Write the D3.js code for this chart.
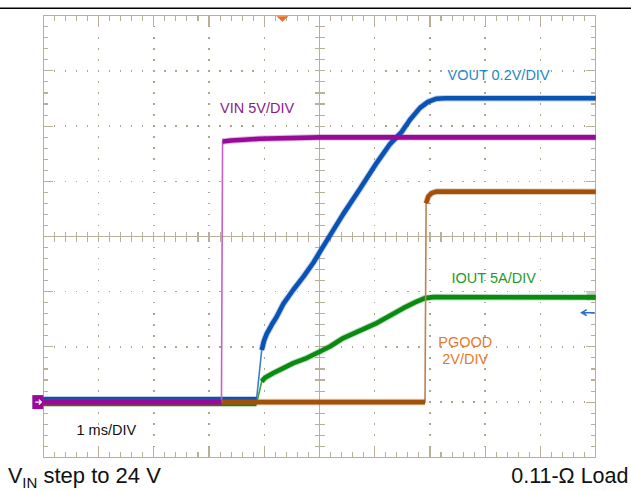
<!DOCTYPE html>
<html>
<head>
<meta charset="utf-8">
<script src="https://cdn.jsdelivr.net/npm/d3@7"></script>
<style>
  html, body { margin: 0; padding: 0; background: #ffffff; }
  svg { display: block; }
  text { font-family: "Liberation Sans", Arial, Helvetica, sans-serif; }
</style>
</head>
<body>
<script>
// ---------------- data ----------------
// time in ms (1 ms/DIV), null marks a fast edge (drawn thin)
const channelNames = ["VIN", "VOUT", "IOUT", "PGOOD"];
const unitsPerDiv  = [5, 0.2, 5, 2];          // V/DIV, V/DIV, A/DIV, V/DIV
const channelLabels = ["VIN 5V/DIV", "VOUT 0.2V/DIV", "IOUT 5A/DIV", "PGOOD", "2V/DIV"];
const timebaseLabel = "1 ms/DIV";
const noteLeft = ["V", "IN", " step to 24 V"];
const noteRight = "0.11-\u03A9 Load";

const vinTime  = [0, 3.225, null, 3.245, 3.40, 3.92, 5.01, 10];
const vinVolts = [0, 0,     null, 23.6,  23.7, 23.85, 23.98, 23.98];

const voutTime  = [0, 3.86, null, 3.954, 3.995, 4.044, 4.135, 4.225, 4.345, 4.526, 4.707, 4.888, 5.040, 5.431, 5.733, 6.036, 6.276, 6.488, 6.638, 6.819, 6.964, 7.109, 7.271, 10];
const voutVolts = [0.01, 0.01, null, 0.189, 0.222, 0.247, 0.280, 0.309, 0.356, 0.407, 0.454, 0.505, 0.555, 0.682, 0.773, 0.867, 0.935, 0.979, 1.023, 1.066, 1.088, 1.099, 1.101, 1.101];

const ioutTime = [0, 3.86, null, 3.954, 4.013, 4.164, 4.345, 4.526, 4.768, 5.009, 5.190, 5.431, 6.036, 6.517, 6.760, 6.910, 7.060, 10];
const ioutAmps = [-0.15, -0.15, null, 1.87, 2.20, 2.63, 3.08, 3.53, 3.99, 4.58, 5.04, 5.80, 7.16, 8.51, 9.11, 9.42, 9.51, 9.49];

const pgoodTime  = [0, 6.91, null, 6.93, 6.97, 7.03, 7.12, 10];
const pgoodVolts = [0, 0,    null, 7.2,  7.45, 7.57, 7.63, 7.62];

const triggerTime = 4.33;       // ms, orange marker on top
const groundDiv = 1;            // all channels referenced one division above bottom
const voutMarkerDiv = 2.62;     // blue level arrow on right edge
const ioutMarkerDiv = 2.93;     // grey marker on right edge

// ---------------- layout ----------------
const W = 631, H = 491;
const x = d3.scaleLinear().domain([0, 10]).range([43.3, 595.7]);
const yDiv = d3.scaleLinear().domain([0, 8]).range([457.3, 15.7]);

const gridColor = "#bab09a";
const svg = d3.select("body").append("svg").attr("width", W).attr("height", H);

// top rule
svg.append("line").attr("x1", 0).attr("x2", W).attr("y1", 8.3).attr("y2", 8.3)
  .attr("stroke", "#000").attr("stroke-width", 1.6);

const grid = svg.append("g").attr("shape-rendering", "crispEdges");

// dotted major lines
const minorX = d3.range(0, 50.5).map(i => i / 5);   // 0..10 ms step 0.2
const minorY = d3.range(0, 40.5).map(i => i / 5);   // 0..8 div step 0.2
const majorX = d3.range(1, 10).filter(d => d !== 5);
const majorY = d3.range(1, 8).filter(d => d !== 4);
const dots = [];
majorX.forEach(mx => minorY.forEach(my => { if (my > 0 && my < 8) dots.push([mx, my]); }));
majorY.forEach(my => minorX.forEach(mx => { if (mx > 0 && mx < 10) dots.push([mx, my]); }));
grid.selectAll("rect.dot").data(dots).join("rect").attr("class", "dot")
  .attr("x", d => x(d[0]) - 0.75).attr("y", d => yDiv(d[1]) - 0.75)
  .attr("width", 1.5).attr("height", 1.5).attr("fill", "#afa58b");

// center crosshair
grid.append("line").attr("x1", x(5)).attr("x2", x(5)).attr("y1", yDiv(8)).attr("y2", yDiv(0))
  .attr("stroke", gridColor).attr("stroke-width", 1.3);
grid.append("line").attr("x1", x(0)).attr("x2", x(10)).attr("y1", yDiv(4)).attr("y2", yDiv(4))
  .attr("stroke", gridColor).attr("stroke-width", 1.3);
grid.selectAll("line.cty").data(minorY.filter(d => d > 0 && d < 8)).join("line").attr("class", "cty")
  .attr("x1", x(5) - 5).attr("x2", x(5) + 5).attr("y1", d => yDiv(d)).attr("y2", d => yDiv(d))
  .attr("stroke", gridColor).attr("stroke-width", 1.1);
grid.selectAll("line.ctx").data(minorX.filter(d => d > 0 && d < 10)).join("line").attr("class", "ctx")
  .attr("y1", yDiv(4) - 5).attr("y2", yDiv(4) + 5).attr("x1", d => x(d)).attr("x2", d => x(d))
  .attr("stroke", gridColor).attr("stroke-width", 1.1);

// border ticks
const tickLen = d => (Math.abs(d - Math.round(d)) < 1e-6 ? 10 : 5);
const innerX = minorX.filter(d => d > 0 && d < 10);
const innerY = minorY.filter(d => d > 0 && d < 8);
grid.selectAll("line.tt").data(innerX).join("line").attr("class", "tt")
  .attr("x1", d => x(d)).attr("x2", d => x(d)).attr("y1", yDiv(8)).attr("y2", d => yDiv(8) + tickLen(d))
  .attr("stroke", gridColor).attr("stroke-width", 1.1);
grid.selectAll("line.bt").data(innerX).join("line").attr("class", "bt")
  .attr("x1", d => x(d)).attr("x2", d => x(d)).attr("y1", yDiv(0)).attr("y2", d => yDiv(0) - tickLen(d))
  .attr("stroke", gridColor).attr("stroke-width", 1.1);
grid.selectAll("line.lt").data(innerY).join("line").attr("class", "lt")
  .attr("y1", d => yDiv(d)).attr("y2", d => yDiv(d)).attr("x1", x(0)).attr("x2", d => x(0) + tickLen(d))
  .attr("stroke", gridColor).attr("stroke-width", 1.1);
grid.selectAll("line.rt").data(innerY).join("line").attr("class", "rt")
  .attr("y1", d => yDiv(d)).attr("y2", d => yDiv(d)).attr("x1", x(10)).attr("x2", d => x(10) - tickLen(d))
  .attr("stroke", gridColor).attr("stroke-width", 1.1);

// border
grid.append("rect").attr("x", x(0)).attr("y", yDiv(8))
  .attr("width", x(10) - x(0)).attr("height", yDiv(0) - yDiv(8))
  .attr("fill", "none").attr("stroke", gridColor).attr("stroke-width", 1.3);

// grey channel marker at right edge (behind traces)
svg.append("rect").attr("x", x(10) - 9).attr("y", yDiv(ioutMarkerDiv) - 4.5).attr("width", 9).attr("height", 9)
  .attr("fill", "#c9c7bd").attr("opacity", 0.9);

// ---------------- traces ----------------
function drawTrace(times, vals, perDiv, color, edgeColor) {
  const pts = times.map((t, i) => ({ t: t, v: vals[i] }));
  const line = d3.line().x(d => x(d.t)).y(d => yDiv(groundDiv + d.v / perDiv));
  const g = svg.append("g");
  g.append("path").datum(pts.filter(d => d.t !== null)).attr("d", line)
    .attr("fill", "none").attr("stroke", edgeColor).attr("stroke-width", 1.6);
  const thick = line.defined(d => d.t !== null);
  g.append("path").datum(pts).attr("d", thick)
    .attr("fill", "none").attr("stroke", color).attr("stroke-width", 6.5).attr("stroke-opacity", 0.28)
    .attr("stroke-linejoin", "round");
  g.append("path").datum(pts).attr("d", thick)
    .attr("fill", "none").attr("stroke", color).attr("stroke-width", 4.6)
    .attr("stroke-linejoin", "round");
}
drawTrace(ioutTime, ioutAmps, unitsPerDiv[2], "#0b8a12", "#3aa040");
drawTrace(voutTime, voutVolts, unitsPerDiv[1], "#0a52b4", "#3f7fd0");
drawTrace(pgoodTime, pgoodVolts, unitsPerDiv[3], "#a3510a", "#c08050");
drawTrace(vinTime, vinVolts, unitsPerDiv[0], "#980b98", "#c860c8");

// ---------------- markers ----------------
const tx = x(triggerTime);
svg.append("path").attr("d", `M${tx - 6},${yDiv(8) + 0.5}L${tx + 6},${yDiv(8) + 0.5}L${tx},${yDiv(8) + 6}Z`)
  .attr("fill", "#f26a24");

const gy = yDiv(groundDiv);
svg.append("rect").attr("x", x(0) - 11).attr("y", gy - 7).attr("width", 11).attr("height", 14)
  .attr("fill", "#980b98");
svg.append("path").attr("d", `M${x(0) - 8},${gy}L${x(0) - 2},${gy}M${x(0) - 4.5},${gy - 2.5}L${x(0) - 2},${gy}L${x(0) - 4.5},${gy + 2.5}`)
  .attr("stroke", "#fff").attr("stroke-width", 1.3).attr("fill", "none");

const vy = yDiv(voutMarkerDiv);
svg.append("path").attr("d", `M${x(10) - 1},${vy}L${x(10) - 13},${vy}M${x(10) - 9},${vy - 3}L${x(10) - 14},${vy}L${x(10) - 9},${vy + 3}`)
  .attr("stroke", "#2a6cc8").attr("stroke-width", 1.6).attr("fill", "none");

// ---------------- labels ----------------
const lab = (txt, px, py, color) => svg.append("text").attr("x", px).attr("y", py)
  .attr("font-size", 14.5).attr("fill", color).text(txt);
lab(channelLabels[0], 220, 113.3, "#8a1c8a");
lab(channelLabels[1], 447.5, 80, "#2a86c8");
lab(channelLabels[2], 451.5, 282.7, "#1f9a2a");
lab(channelLabels[3], 438.3, 346.7, "#e8792b");
lab(channelLabels[4], 442.3, 364.3, "#e8792b");
lab(timebaseLabel, 76.5, 435, "#111");

const nl = svg.append("text").attr("x", 8).attr("y", 482.7).attr("font-size", 21.5).attr("fill", "#111");
nl.append("tspan").text(noteLeft[0]);
nl.append("tspan").attr("font-size", 15).attr("dy", 5.6).text(noteLeft[1]);
nl.append("tspan").attr("dy", -5.6).attr("font-size", 22).text(noteLeft[2]);

svg.append("text").attr("x", 628.5).attr("y", 483.3).attr("text-anchor", "end")
  .attr("font-size", 21.5).attr("fill", "#111").text(noteRight);
</script>
</body>
</html>
